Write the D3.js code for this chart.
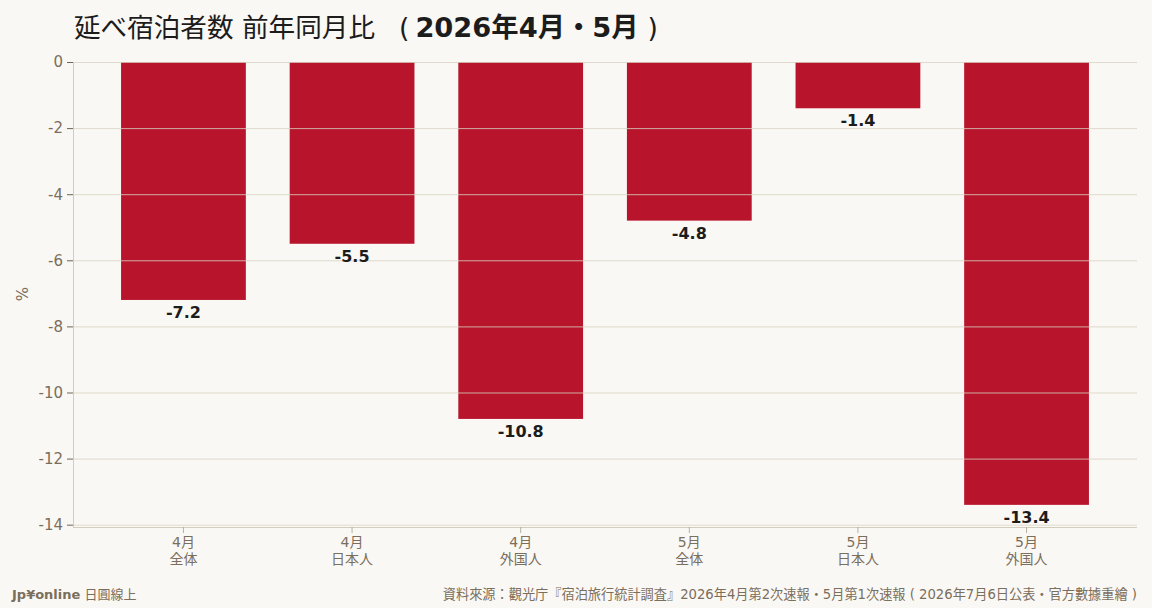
<!DOCTYPE html>
<html>
<head>
<meta charset="utf-8">
<script src="https://cdn.jsdelivr.net/npm/d3@7"></script>
<style>
  body { margin: 0; background: #faf8f4; }
  text { font-family: "DejaVu Sans", "Noto Sans CJK JP", sans-serif; }
</style>
</head>
<body>
<div class="chart"></div>
<script>
// chart data
var months = ["4月", "4月", "4月", "5月", "5月", "5月"];
var groups = ["全体", "日本人", "外国人", "全体", "日本人", "外国人"];
var values = [-7.2, -5.5, -10.8, -4.8, -1.4, -13.4];
var yTicks = [0, -2, -4, -6, -8, -10, -12, -14];

var svgWidth = 1152;
var svgHeight = 608;

var margin = {
  top: 62,
  right: 15,
  bottom: 81,
  left: 73
};

var width = svgWidth - margin.left - margin.right;
var height = svgHeight - margin.top - margin.bottom;

var svg = d3.select(".chart")
  .append("svg")
  .attr("width", svgWidth)
  .attr("height", svgHeight)
  .style("display", "block");

svg.append("rect")
  .attr("width", svgWidth)
  .attr("height", svgHeight)
  .attr("fill", "#faf8f4");

var chartGroup = svg.append("g")
  .attr("transform", `translate(${margin.left}, ${margin.top})`);

var keys = values.map((v, i) => i);

var xScale = d3.scaleBand()
  .domain(keys)
  .range([0, width])
  .paddingInner(0.26)
  .paddingOuter(0.285);

var yScale = d3.scaleLinear()
  .domain([0, d3.min(values) * 1.05])
  .range([0, height]);

// bars
chartGroup.selectAll("rect.bar")
  .data(values)
  .enter()
  .append("rect")
  .attr("class", "bar")
  .attr("x", (d, i) => xScale(i))
  .attr("y", yScale(0))
  .attr("width", xScale.bandwidth())
  .attr("height", d => yScale(d) - yScale(0))
  .attr("fill", "#b8152c");

// gridlines sit on top of the bars
chartGroup.append("g")
  .selectAll("line")
  .data(yTicks)
  .enter()
  .append("line")
  .attr("x1", 0)
  .attr("x2", width)
  .attr("y1", d => yScale(d) + 0.5)
  .attr("y2", d => yScale(d) + 0.5)
  .attr("stroke", "#d8d2c2")
  .attr("stroke-opacity", 0.8)
  .attr("stroke-width", 1);

// y axis
var leftAxis = d3.axisLeft(yScale)
  .tickValues(yTicks)
  .tickSize(6)
  .tickPadding(4)
  .tickFormat(d => d === 0 ? "0" : "-" + Math.abs(d));

var yAxis = chartGroup.append("g").call(leftAxis);
yAxis.select(".domain").attr("stroke", "#d3cdbd").attr("d", `M0.5,0V${height}`);
yAxis.selectAll(".tick line").attr("stroke", "#6e6452");
yAxis.selectAll(".tick text")
  .attr("fill", "#7a6e5c")
  .style("font-size", "15px");

// x axis
var bottomAxis = d3.axisBottom(xScale).tickSize(6).tickFormat("");
var xAxis = chartGroup.append("g")
  .attr("transform", `translate(0, ${height})`)
  .call(bottomAxis);
xAxis.select(".domain").attr("stroke", "#d3cdbd").attr("d", `M0,0.5H${width}`);
xAxis.selectAll(".tick line").attr("stroke", "#b9b1a0");

xAxis.selectAll(".tick text").each(function(d) {
  var t = d3.select(this)
    .attr("fill", "#7a6e5c")
    .attr("y", 9)
    .style("font-size", "14px");
  t.append("tspan").attr("x", 0).attr("dy", "0.8em").text(months[d]);
  t.append("tspan").attr("x", 0).attr("dy", "1.2em").text(groups[d]);
});

// value labels under each bar
chartGroup.selectAll("text.val")
  .data(values)
  .enter()
  .append("text")
  .attr("class", "val")
  .attr("x", (d, i) => xScale(i) + xScale.bandwidth() / 2)
  .attr("y", d => yScale(d) + 18)
  .attr("text-anchor", "middle")
  .attr("fill", "#1c1c1c")
  .style("font-size", "16px")
  .style("font-weight", "bold")
  .text(d => d.toFixed(1));

// y axis label
svg.append("text")
  .attr("transform", `translate(28, 294) rotate(-90)`)
  .attr("text-anchor", "middle")
  .attr("fill", "#7a6e5c")
  .style("font-size", "15px")
  .text("%");

// title
var title = svg.append("text")
  .attr("x", 74)
  .attr("y", 37)
  .attr("fill", "#1c1c1c")
  .style("font-size", "26.6px");
title.append("tspan").text("延べ宿泊者数 前年同月比");
title.append("tspan").attr("dx", 24).text("(");
title.append("tspan").attr("dx", 6)
  .style("font-weight", "bold")
  .style("font-size", "27.3px")
  .text("2026年4月・5月");
title.append("tspan").attr("dx", 9).text(")");

// footer
var brand = svg.append("text")
  .attr("x", 12)
  .attr("y", 599)
  .attr("fill", "#7a6e5c")
  .style("font-size", "13px");
brand.append("tspan").style("font-weight", "bold").text("Jp¥online");
brand.append("tspan").text(" 日圓線上");

svg.append("text")
  .attr("x", 1137)
  .attr("y", 599)
  .attr("text-anchor", "end")
  .attr("fill", "#7a6e5c")
  .style("font-size", "13.2px")
  .text("資料來源：觀光庁『宿泊旅行統計調査』2026年4月第2次速報・5月第1次速報 ( 2026年7月6日公表・官方數據重繪 )");
</script>
</body>
</html>
